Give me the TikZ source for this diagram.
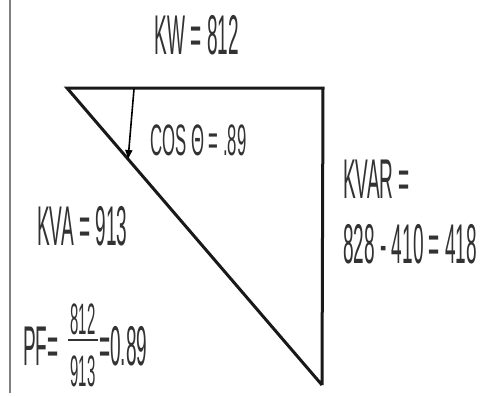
\documentclass[tikz,border=0pt]{standalone}
\usepackage{fontspec}
\usetikzlibrary{arrows.meta}
\newfontfamily\cf[FakeStretch=0.34]{Liberation Sans}
\newfontfamily\cfw[FakeStretch=0.38]{Liberation Sans}
\definecolor{txt}{RGB}{50,50,50}
\begin{document}
\begin{tikzpicture}[x=1pt,y=-1pt,
  lbl/.style={anchor=base west,inner sep=0pt,text=txt,font=\cf\fontsize{56}{56}\selectfont},
  lblsm/.style={lbl,font=\cfw\fontsize{44}{44}\selectfont},
  lblfr/.style={lbl,font=\cf\fontsize{44}{44}\selectfont},
  edge/.style={line width=3pt,draw=black!90}]
\useasboundingbox (0,0) rectangle (484,396);
\draw[gray,line width=2pt] (10,0) -- (10,393);
\coordinate (A) at (67,88);
\coordinate (B) at (323,88);
\coordinate (C) at (322,385);
\draw[edge,line join=miter] (C) -- (B) -- (A) -- (C);
\coordinate (arrS) at (134,89);
\coordinate (arrE) at (128,160);
\draw[line width=1.6pt,-{Latex[length=10pt,width=8pt]}] (arrS) -- (arrE);
\node[lbl,anchor=base] (kw) at (197,55) {KW = 812};
\node[lblsm] (cos) at (150,155) {COS Θ = .89};
\node[lbl] (kvar) at (343,198) {KVAR =};
\node[lbl] (kvar2) at (343,263) {828 - 410 = 418};
\node[lbl] (kva) at (37,245) {KVA = 913};
\node[lbl] (pf) at (23,365) {PF=};
\node[lblfr,anchor=base] (num) at (83,334) {812};
\node[lblfr,anchor=base] (den) at (83,386) {913};
\draw[txt,line width=1.8pt] (68,340) -- (98,340);
\node[lbl] (res) at (99,365) {=0.89};
\end{tikzpicture}
\end{document}
